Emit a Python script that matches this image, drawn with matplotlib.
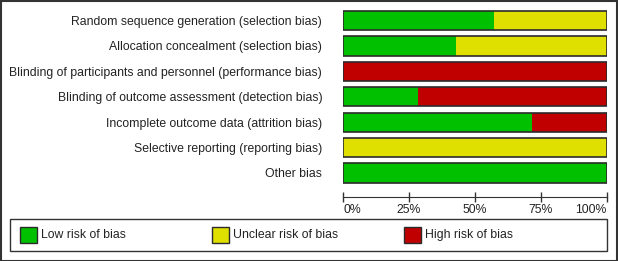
import matplotlib.pyplot as plt
from matplotlib.patches import Rectangle

plt.rcParams['font.family'] = ['Liberation Sans', 'DejaVu Sans']

# Risk of bias domains (top to bottom) and share of studies (%)
domains = [
    'Random sequence generation (selection bias)',
    'Allocation concealment (selection bias)',
    'Blinding of participants and personnel (performance bias)',
    'Blinding of outcome assessment (detection bias)',
    'Incomplete outcome data (attrition bias)',
    'Selective reporting (reporting bias)',
    'Other bias',
]
low = [4 / 7 * 100, 3 / 7 * 100, 0, 2 / 7 * 100, 5 / 7 * 100, 0, 100]
unclear = [3 / 7 * 100, 4 / 7 * 100, 0, 0, 0, 100, 0]
high = [0, 0, 100, 5 / 7 * 100, 2 / 7 * 100, 0, 0]

categories = ['Low risk of bias', 'Unclear risk of bias', 'High risk of bias']
colors = ['#00c000', '#e0e000', '#c00000']
ticks = [0, 25, 50, 75, 100]
tick_labels = ['0%', '25%', '50%', '75%', '100%']

W, H = 618, 261
fig = plt.figure(figsize=(W / 100, H / 100), dpi=100)
FS = 8.8


def fx(x):
    return x / W


def fy(y):
    return 1 - y / H


# bars axes: y from 7.8px to 185.7px
top, bot = 7.8, 185.7
ax = fig.add_axes([fx(343), fy(bot), fx(607) - fx(343), (bot - top) / H])

ypos = list(range(len(domains)))
left = [0] * len(domains)
for vals, c in zip([low, unclear, high], colors):
    ax.barh(ypos, vals, left=left, height=0.76, color=c, edgecolor='none')
    left = [a + b for a, b in zip(left, vals)]
# outline around each full bar
ax.barh(ypos, [100] * len(domains), height=0.76, color='none',
        edgecolor='#2b2b2b', linewidth=1.2)

ax.set_xlim(0, 100)
ax.set_ylim(len(domains) - 0.5, -0.5)
ax.set_yticks(ypos)
ax.set_yticklabels(domains, fontsize=FS, color='#222222')
ax.tick_params(axis='y', length=0, pad=15)

for s in ['top', 'right', 'left']:
    ax.spines[s].set_visible(False)
ax.spines['bottom'].set_position(('outward', 8))
ax.spines['bottom'].set_bounds(0, 100)
ax.spines['bottom'].set_color('#333333')
ax.set_xticks(ticks)
ax.set_xticklabels(tick_labels, fontsize=FS, color='#222222')
ax.tick_params(axis='x', direction='inout', length=7, width=1, color='#333333', pad=2)
tl = ax.get_xticklabels()
tl[0].set_horizontalalignment('left')
tl[-1].set_horizontalalignment('right')

# legend box
fig.patches.append(Rectangle((fx(10), fy(251)), fx(607) - fx(10), (251 - 219) / H,
                             transform=fig.transFigure, facecolor='white',
                             edgecolor='#333333', linewidth=1))
leg_x = [20, 212, 404]
for x, c, lab in zip(leg_x, colors, categories):
    fig.patches.append(Rectangle((fx(x), fy(243)), 17 / W, 16 / H,
                                 transform=fig.transFigure, facecolor=c,
                                 edgecolor='#2b2b2b', linewidth=1))
    fig.text(fx(x + 21), fy(235), lab, fontsize=FS, color='#222222', va='center')

# outer frame
fig.patches.append(Rectangle((0.5 / W, 0.5 / H), 1 - 1.5 / W, 1 - 1.5 / H,
                             transform=fig.transFigure, facecolor='none',
                             edgecolor='#333333', linewidth=1.5))

fig.savefig('out.png', dpi=100)
